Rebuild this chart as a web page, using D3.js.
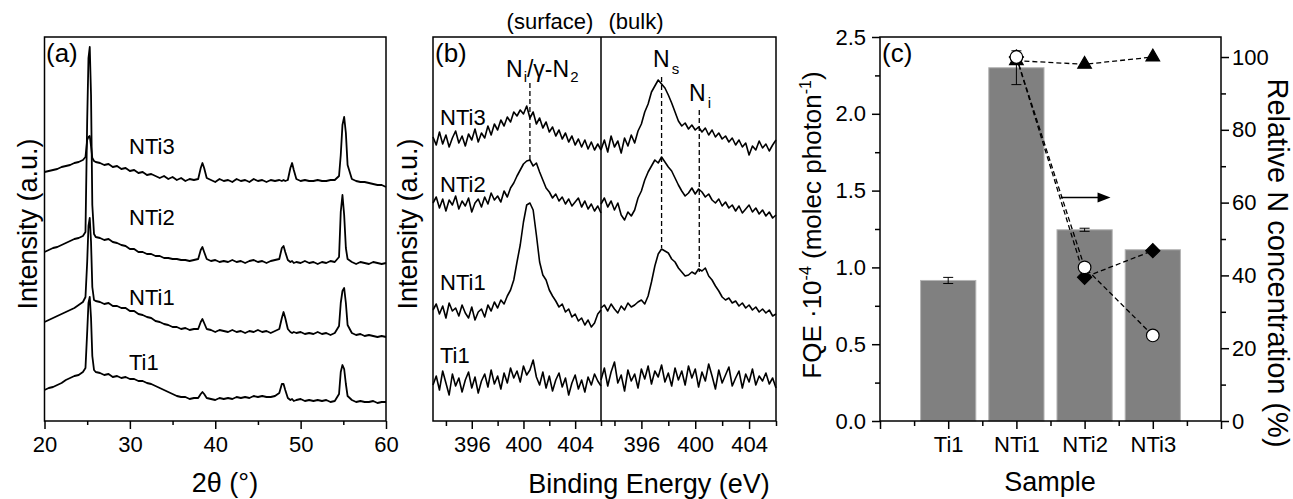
<!DOCTYPE html>
<html>
<head>
<meta charset="utf-8">
<script src="https://cdn.jsdelivr.net/npm/d3@7"></script>
<style>
body { margin: 0; background: #fff; }
</style>
</head>
<body>
<svg id="drawing_region"></svg>
<script>
// ---------- (a) XRD ----------
const two_theta = [20,20.5,21,21.5,22,22.5,23,23.5,24,24.5,
    24.8,25,25.15,25.3,25.45,25.6,25.8,26,
    26.5,27,27.5,28,28.5,29,29.5,30,30.5,31,31.5,32,32.5,33,33.5,34,34.5,35,35.5,36,36.5,37,37.5,38,
    38.3,38.5,38.7,39,
    39.5,40,40.5,41,41.5,42,42.5,43,43.5,44,44.5,45,45.5,46,46.5,47,47.5,
    47.8,48,48.2,48.5,
    48.8,49,49.2,
    49.5,50,50.5,51,51.5,52,52.5,53,53.5,54,54.5,
    54.7,54.9,55.1,55.3,55.5,
    56,56.5,57,57.5,58,58.5,59,59.5,60];

// stacked intensities (a.u.), offsets as drawn
const xrd_NTi3 = [249,250,251,252,254,255,256,258,259,261,
    264,281,284,285,275,263,260,259,
    258,256,257,254,255,252,253,250,251,248,249,246,247,245,243,245,242,244,241,243,240,242,241,242,
    253,258,253,243,
    241,239,242,240,241,239,242,240,241,239,242,240,241,239,241,240,241,
    240,241,240,241,
    253,258,251,
    242,240,241,240,240,241,240,240,241,241,245,
    266,296,304,288,256,
    242,240,239,239,238,237,236,236,234];
const xrd_NTi2 = [169,171,173,174,176,178,180,182,183,185,
    189,301,363,374,326,216,187,184,
    183,181,182,179,178,176,175,172,172,169,169,167,167,165,165,163,163,162,162,161,161,160,161,162,
    171,174,169,162,
    160,161,159,160,159,161,159,160,158,160,161,159,160,158,160,161,162,
    173,175,169,161,
    159,160,158,
    159,158,160,158,159,157,159,158,160,159,164,
    209,226,206,173,162,
    159,157,159,158,157,159,158,157,158];
const xrd_NTi1 = [99,101,103,105,107,109,111,113,116,119,
    124,159,195,203,179,134,121,120,
    119,117,118,115,115,113,113,110,110,107,106,104,103,100,99,97,96,94,94,92,93,91,92,92,
    99,102,98,92,
    91,89,91,90,89,91,89,90,88,90,89,91,89,90,88,90,92,
    103,109,103,92,
    89,88,89,
    88,89,87,88,87,89,87,88,86,88,95,
    118,130,133,118,96,
    88,86,87,85,86,85,84,85,84];
const xrd_Ti1 = [31,33,34,36,38,41,43,45,46,49,
    53,89,118,124,103,65,51,49,
    48,46,47,44,45,43,44,42,42,40,40,38,37,35,33,31,29,27,25,24,24,22,23,23,
    27,29,27,23,
    22,21,23,22,23,22,24,23,24,23,25,24,25,24,24,25,28,
    37,37,31,23,
    21,22,20,
    21,22,20,21,20,21,20,21,19,20,27,
    49,56,52,37,25,
    21,19,20,19,19,20,18,19,19];
const xrd_labels = ["NTi3", "NTi2", "NTi1", "Ti1"];

// ---------- (b) XPS N 1s ----------
const energy = [393,393.25,393.5,393.75,394,394.25,394.5,394.75,395,395.25,
    395.5,395.75,396,396.25,396.5,396.75,397,397.25,397.5,397.75,
    398,398.25,398.5,398.75,399,399.25,399.5,399.75,400,400.25,
    400.5,400.75,401,401.25,401.5,401.75,402,402.25,402.5,402.75,
    403,403.25,403.5,403.75,404,404.25,404.5,404.75,405,405.25,
    405.5,405.75,406];

const surf_NTi3 = [284,276,289,277,286,274,283,290,278,285,
    275,287,281,292,279,288,283,295,286,297,
    291,301,295,304,299,309,305,311,307,315,
    303,309,297,303,293,299,289,294,285,291,
    282,288,279,285,276,282,274,281,272,279,
    271,277,271];
const surf_NTi2 = [218,224,213,222,210,221,216,225,212,220,
    215,223,209,218,222,214,224,217,228,221,
    225,219,230,224,233,238,245,251,257,260,
    261,255,258,249,241,233,229,223,227,220,
    224,217,222,215,219,223,214,220,212,217,
    210,215,208];
const surf_NTi1 = [111,117,107,115,103,118,110,113,105,116,
    108,103,114,101,109,112,104,116,110,119,
    113,121,117,125,131,141,159,176,199,216,
    218,211,186,159,146,141,131,125,120,114,
    117,109,112,104,107,100,103,96,101,94,
    98,107,111];
const surf_Ti1 = [36,45,31,50,38,26,47,35,43,29,
    41,49,33,44,28,40,47,34,51,37,
    45,32,48,38,53,43,50,39,55,46,
    51,61,44,36,49,33,45,30,41,48,
    34,43,26,38,46,32,41,29,44,36,
    47,40,35];

const bulk_NTi3 = [271,281,269,285,274,280,268,283,275,286,
    278,290,297,309,317,329,335,341,337,333,
    326,318,309,300,295,298,292,296,291,294,
    289,293,286,291,284,288,282,285,279,283,
    276,281,274,278,266,275,271,280,273,277,
    270,276,281];
const bulk_NTi2 = [217,223,214,220,211,218,206,201,209,205,
    211,223,230,241,249,255,261,258,264,259,
    254,250,243,236,230,225,228,233,227,232,
    229,224,227,221,218,222,215,219,213,216,
    210,215,208,212,216,209,213,207,211,205,
    209,203,206];
const bulk_NTi1 = [113,116,110,117,112,108,115,111,118,114,
    116,119,121,117,125,139,155,167,172,170,
    168,162,159,153,149,145,146,149,147,152,
    150,153,145,141,135,130,124,121,123,118,
    120,115,118,113,116,111,114,109,112,108,
    111,105,107];
const bulk_Ti1 = [41,53,35,49,59,38,46,30,51,40,
    47,33,52,42,55,37,50,44,56,39,
    48,35,53,41,50,36,55,43,52,34,
    49,40,57,45,32,51,38,46,54,35,
    43,50,33,47,39,52,36,45,40,48,
    37,43,33];

// peak markers: energy (eV) and vertical extent (a.u.)
const surf_peak = {e: 400.5, from: 338, to: 261};
const bulk_peaks = [{e: 397.5, from: 344, to: 173}, {e: 400.3, from: 311, to: 149}];

// ---------- (c) FQE and relative N ----------
const samples = ["Ti1", "NTi1", "NTi2", "NTi3"];
const fqe = [0.915, 2.30, 1.245, 1.115];
const fqe_err = [0.02, 0.11, 0.01, 0];
const relN_triangle = [null, 99, 98, 100];
const relN_diamond = [null, 100, 39.5, 46.8];
const relN_circle = [null, 100, 42.2, 23.5];

const FONT = '"Liberation Sans", Arial, sans-serif';
const top_y = 37, bottom_y = 421;

const svg = d3.select('#drawing_region')
    .attr('width', 1293)
    .attr('height', 499)
    .style('font-family', FONT);

svg.append('rect').attr('width', 1293).attr('height', 499).attr('fill', '#fff');

function styleAxis(g) {
    g.select('.domain').remove();
    g.selectAll('line').attr('stroke', '#000').attr('stroke-width', 1.5);
    g.selectAll('text').attr('font-size', 22).attr('fill', '#000').attr('font-family', FONT);
    return g;
}

function bottomTicks(scale, values, size, fmt) {
    const ax = d3.axisBottom(scale)
        .tickValues(values)
        .tickSize(size)
        .tickSizeOuter(0)
        .tickPadding(7)
        .tickFormat(fmt || (() => ''));
    return styleAxis(svg.append('g').attr('transform', `translate(0,${bottom_y})`).call(ax));
}

function frame(x0, x1) {
    svg.append('rect')
        .attr('x', x0).attr('y', top_y)
        .attr('width', x1 - x0).attr('height', bottom_y - top_y)
        .attr('fill', 'none').attr('stroke', '#000').attr('stroke-width', 1.5);
}

function label(x, y, txt, size, anchor) {
    return svg.append('text')
        .attr('x', x).attr('y', y)
        .attr('font-size', size)
        .attr('text-anchor', anchor || 'start')
        .attr('fill', '#000')
        .text(txt);
}

function vlabel(x, y, txt, size, angle) {
    return svg.append('text')
        .attr('transform', `translate(${x},${y}) rotate(${angle})`)
        .attr('font-size', size)
        .attr('text-anchor', 'middle')
        .attr('fill', '#000')
        .text(txt);
}

// ===== panel (a) =====
const xA = d3.scaleLinear().domain([20, 60]).range([44.5, 386]);
const yA = d3.scaleLinear().domain([0, 384]).range([bottom_y, top_y]);

const lineA = d3.line().x((d, i) => xA(two_theta[i])).y(d => yA(d));
[xrd_NTi3, xrd_NTi2, xrd_NTi1, xrd_Ti1].forEach(s => {
    svg.append('path').datum(s)
        .attr('d', lineA)
        .attr('fill', 'none')
        .attr('stroke', '#000')
        .attr('stroke-width', 1.8)
        .attr('stroke-linejoin', 'round');
});

frame(44.5, 386);
bottomTicks(xA, [20, 30, 40, 50, 60], 8, d3.format('d'));
bottomTicks(xA, [25, 35, 45, 55], 4);

label(46, 62, '(a)', 26);
[154, 225, 305, 370].forEach((y, i) => label(129, y, xrd_labels[i], 22));
vlabel(37, 224, 'Intensity (a.u.)', 27, -90);
label(225, 492, '2θ (°)', 27, 'middle');

// ===== panel (b) =====
const xBs = d3.scaleLinear().domain([393, 406]).range([433, 601]);
const xBb = d3.scaleLinear().domain([393, 406]).range([601, 776]);
const yB = d3.scaleLinear().domain([0, 384]).range([bottom_y, top_y]);

const lineBs = d3.line().x((d, i) => xBs(energy[i])).y(d => yB(d));
const lineBb = d3.line().x((d, i) => xBb(energy[i])).y(d => yB(d));

[surf_NTi3, surf_NTi2, surf_NTi1, surf_Ti1].forEach(s => {
    svg.append('path').datum(s).attr('d', lineBs)
        .attr('fill', 'none').attr('stroke', '#000').attr('stroke-width', 1.6)
        .attr('stroke-linejoin', 'round');
});
[bulk_NTi3, bulk_NTi2, bulk_NTi1, bulk_Ti1].forEach(s => {
    svg.append('path').datum(s).attr('d', lineBb)
        .attr('fill', 'none').attr('stroke', '#000').attr('stroke-width', 1.6)
        .attr('stroke-linejoin', 'round');
});

function dashed(x, y0, y1) {
    svg.append('line')
        .attr('x1', x).attr('x2', x)
        .attr('y1', y0).attr('y2', y1)
        .attr('stroke', '#000').attr('stroke-width', 1.3)
        .attr('stroke-dasharray', '5,3');
}
dashed(xBs(surf_peak.e), yB(surf_peak.from), yB(surf_peak.to));
bulk_peaks.forEach(p => dashed(xBb(p.e), yB(p.from), yB(p.to)));

frame(433, 776);
svg.append('line')
    .attr('x1', xBb(393)).attr('x2', xBb(393))
    .attr('y1', top_y).attr('y2', bottom_y)
    .attr('stroke', '#000').attr('stroke-width', 1.5);

bottomTicks(xBs, [396, 400, 404], 8, d3.format('d'));
bottomTicks(xBs, [394, 398, 402, 406], 5);
bottomTicks(xBb, [396, 400, 404], 8, d3.format('d'));
bottomTicks(xBb, [394, 398, 402, 406], 5);

label(435, 62, '(b)', 26);
[125, 192, 290, 363].forEach((y, i) => label(440, y, xrd_labels[i], 22));
label(550, 29, '(surface)', 22, 'middle');
label(636, 29, '(bulk)', 22, 'middle');

// N_i / gamma-N2
const t1 = label(506, 77, '', 23);
t1.append('tspan').text('N');
t1.append('tspan').attr('font-size', 15).attr('dy', 5).attr('dx', 1).text('i');
t1.append('tspan').attr('dy', -5).text('/γ-N');
t1.append('tspan').attr('font-size', 15).attr('dy', 5).attr('dx', 1).text('2');

const t2 = label(653, 67, '', 23);
t2.append('tspan').text('N');
t2.append('tspan').attr('font-size', 15).attr('dy', 7).attr('dx', 2).text('s');

const t3 = label(689, 101, '', 23);
t3.append('tspan').text('N');
t3.append('tspan').attr('font-size', 15).attr('dy', 7).attr('dx', 2).text('i');

vlabel(417, 224, 'Intensity (a.u.)', 27, -90);
label(649, 493, 'Binding Energy (eV)', 27, 'middle');

// ===== panel (c) =====
const xC = d3.scaleLinear().domain([0, 5]).range([880, 1221]);
const yCl = d3.scaleLinear().domain([0, 2.5]).range([bottom_y, top_y]);
const yCr = d3.scaleLinear().domain([0, 105.5]).range([bottom_y, top_y]);
const barW = xC(0.81) - xC(0);

svg.append('g').selectAll('rect')
    .data(fqe).enter().append('rect')
    .attr('x', (d, i) => xC(i + 1) - barW / 2)
    .attr('y', d => yCl(d))
    .attr('width', barW)
    .attr('height', d => yCl(0) - yCl(d))
    .attr('fill', '#808080')
    .attr('stroke', '#b4b4b4')
    .attr('stroke-width', 1);

// error bars
fqe.forEach((v, i) => {
    const e = fqe_err[i];
    if (!e) return;
    const cx = xC(i + 1);
    const g = svg.append('g').attr('stroke', '#000').attr('stroke-width', 1);
    g.append('line').attr('x1', cx).attr('x2', cx).attr('y1', yCl(v - e)).attr('y2', yCl(v + e));
    g.append('line').attr('x1', cx - 5).attr('x2', cx + 5).attr('y1', yCl(v - e)).attr('y2', yCl(v - e));
    g.append('line').attr('x1', cx - 5).attr('x2', cx + 5).attr('y1', yCl(v + e)).attr('y2', yCl(v + e));
});

const lineC = d3.line()
    .defined(d => d != null)
    .x((d, i) => xC(i + 1))
    .y(d => yCr(d));
[relN_triangle, relN_diamond, relN_circle].forEach(s => {
    svg.append('path').datum(s).attr('d', lineC)
        .attr('fill', 'none').attr('stroke', '#000').attr('stroke-width', 1.3)
        .attr('stroke-dasharray', '5,3');
});

function markers(series, shape, size, fill, rot) {
    svg.append('g').selectAll('path')
        .data(series.map((v, i) => ({v, i})).filter(d => d.v != null))
        .enter().append('path')
        .attr('d', d3.symbol().type(shape).size(size))
        .attr('transform', d => `translate(${xC(d.i + 1)},${yCr(d.v)}) rotate(${rot || 0})`)
        .attr('fill', fill)
        .attr('stroke', '#000')
        .attr('stroke-width', 1.2);
}
markers(relN_triangle, d3.symbolTriangle, 80, '#000');
markers(relN_diamond, d3.symbolSquare, 100, '#000', 45);
markers(relN_circle, d3.symbolCircle, 125, '#fff');

// arrow pointing to right axis
const ay = yCl(1.455);
svg.append('line')
    .attr('x1', xC(2.65)).attr('x2', xC(3.2))
    .attr('y1', ay).attr('y2', ay)
    .attr('stroke', '#000').attr('stroke-width', 1.6);
svg.append('path')
    .attr('d', `M${xC(3.38)},${ay} L${xC(3.19)},${ay - 5} L${xC(3.19)},${ay + 5} Z`)
    .attr('fill', '#000');

frame(880, 1221);

bottomTicks(xC, [0, 1, 2, 3, 4, 5], 8, d => samples[d - 1] || '');
bottomTicks(xC, [0.5, 1.5, 2.5, 3.5, 4.5], 5);

const leftAx = d3.axisLeft(yCl).tickValues([0, 0.5, 1, 1.5, 2, 2.5]).tickSize(8).tickPadding(6).tickFormat(d3.format('.1f'));
styleAxis(svg.append('g').attr('transform', 'translate(880,0)').call(leftAx));
const leftMinor = d3.axisLeft(yCl).tickValues([0.25, 0.75, 1.25, 1.75, 2.25]).tickSize(5).tickFormat(() => '');
styleAxis(svg.append('g').attr('transform', 'translate(880,0)').call(leftMinor));

const rightAx = d3.axisRight(yCr).tickValues([0, 20, 40, 60, 80, 100]).tickSize(8).tickPadding(3).tickFormat(d3.format('d'));
styleAxis(svg.append('g').attr('transform', 'translate(1221,0)').call(rightAx));
const rightMinor = d3.axisRight(yCr).tickValues([10, 30, 50, 70, 90]).tickSize(5).tickFormat(() => '');
styleAxis(svg.append('g').attr('transform', 'translate(1221,0)').call(rightMinor));

label(882, 62, '(c)', 26);

const fl = vlabel(821, 225, '', 26, -90);
fl.append('tspan').text('FQE ·10');
fl.append('tspan').attr('font-size', 16).attr('dy', -10).text('-4');
fl.append('tspan').attr('dy', 10).text(' (molec photon');
fl.append('tspan').attr('font-size', 16).attr('dy', -10).text('-1');
fl.append('tspan').attr('dy', 10).text(')');

vlabel(1268, 263, 'Relative N concentration (%)', 29, 90);
label(1050, 491, 'Sample', 27, 'middle');
</script>
</body>
</html>
